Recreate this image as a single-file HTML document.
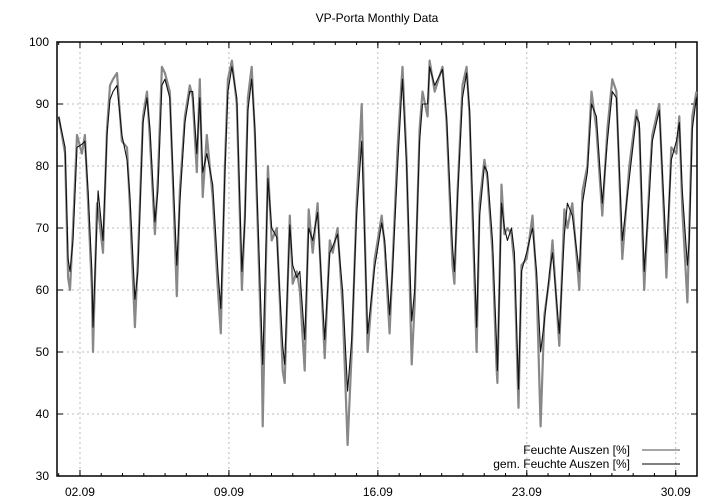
<!DOCTYPE html>
<html><head><meta charset="utf-8"><style>
html,body{margin:0;padding:0;background:#fff;}
svg{display:block;font-family:"Liberation Sans",sans-serif;}
</style></head><body>
<svg id="chart" width="720" height="504">
<text x="377" y="22" font-size="12" text-anchor="middle">VP-Porta Monthly Data</text>
<g id="grid"></g>
<g id="axes"></g>
<g id="series"></g>
<g id="legend">
<text x="630" y="454" font-size="12" text-anchor="end">Feuchte Auszen [%]</text>
<line x1="642" y1="450" x2="680" y2="450" stroke="#888" stroke-width="1.5"/>
<text x="630" y="468" font-size="12" text-anchor="end">gem. Feuchte Auszen [%]</text>
<line x1="642" y1="464" x2="680" y2="464" stroke="#000" stroke-width="1"/>
</g>
</svg>
<script>
const times=[0.0,0.30,0.44,0.53,0.67,0.86,1.09,1.23,1.38,1.56,1.61,1.80,1.85,2.08,2.27,2.41,2.55,2.74,2.97,3.21,3.35,3.58,3.72,3.96,4.15,4.29,4.52,4.66,4.85,4.99,5.22,5.55,5.69,5.93,6.16,6.30,6.49,6.63,6.77,6.96,7.24,7.48,7.62,7.81,7.95,8.14,8.37,8.61,8.75,8.89,9.07,9.22,9.55,9.59,9.83,10.01,10.25,10.53,10.62,10.86,11.00,11.19,11.33,11.56,11.75,11.94,12.17,12.50,12.74,12.88,13.11,13.35,13.58,13.77,14.00,14.24,14.52,14.85,15.18,15.32,15.55,15.69,15.93,16.12,16.16,16.35,16.59,16.73,16.96,17.10,17.34,17.43,17.67,18.04,18.23,18.51,18.60,18.75,18.98,19.17,19.31,19.64,19.78,20.01,20.15,20.39,20.57,20.62,20.81,20.95,21.09,21.28,21.42,21.56,21.61,21.75,21.99,22.27,22.46,22.65,22.83,23.07,23.21,23.53,23.77,23.91,24.14,24.47,24.62,24.85,25.04,25.27,25.55,25.79,26.02,26.21,26.49,26.82,27.15,27.29,27.52,27.77,27.90,28.23,28.56,28.79,29.03,29.17,29.31,29.55,29.64,29.78,29.97];
const smoothValues=[87.9,83,65,63,68,83,83.5,84,76,63,54,71,76,68,85,90.7,92,93,85,81,75,58.5,63,87,91,86,71,76,93,94,91,64,74,87,92,92,82,91,79,82,77,63,57,79,92,96,91,63,71,89,94,86,52,48,78,70,68.5,51,48,70.5,64,62,63,52,70,68,72.5,52,66,67,69,59.7,43.7,52,72,84,53,63.7,70.8,68,56,63,80,92,94,80,55,60,84,90,90,96,93,95.6,88,67,63,75,91,95,89,54,72,80,79,68,52,47,74,70,68,70,66,50,44,63,66,70,63,50,55,63,66,53,69,74,72,63,74,79,90,88,74,84,92,91,68,78,88,87,63,76,84,89,66,81,84,87,76,64,68,86,91];
const rawValues=[88,82,62,60,70,85,82,85,74,60,50,74,73,66,86,93,94,95,84,83,73,54,65,88,92,84,69,78,96,95,92,59,76,88,93,91,79,94,75,85,75,60,53,80,94,97,90,60,72,91,96,85,48,38,80,68,70,47,45,72,61,63,60,47,73,66,74,49,68,66,70,57,35,50,74,90,50,65,72,67,53,64,83,94,96,81,48,58,86,92,88,97,92,96,87,64,61,76,93,96,88,50,74,81,78,66,48,45,77,69,70,69,64,47,41,64,65,72,61,38,56,62,68,51,73,70,74,60,76,80,92,86,72,86,94,92,65,80,89,86,60,78,85,90,62,83,82,88,73,58,70,88,92];
const yTicks=[30,40,50,60,70,80,90,100];
const xTickLabels=["02.09","09.09","16.09","23.09","30.09"];
const xTickDays=[1,8,15,22,29];

const NS="http://www.w3.org/2000/svg";
const L=57,R=697,T=42,B=476,D0=-0.08,D1=30.0,Y0=30,Y1=100;
const sx=d=>L+(d-D0)/(D1-D0)*(R-L);
const sy=v=>B-(v-Y0)/(Y1-Y0)*(B-T);
function mk(tag,attrs,parent){const e=document.createElementNS(NS,tag);for(const k in attrs)e.setAttribute(k,attrs[k]);parent.appendChild(e);return e;}
const grid=document.getElementById('grid'),axes=document.getElementById('axes'),series=document.getElementById('series');

yTicks.forEach((v,i)=>{
  const y=sy(v);
  if(v>Y0&&v<Y1){const g=mk('line',{x1:L,x2:R,y1:y,y2:y,stroke:'#bbb','stroke-width':1,'stroke-dasharray':'2,3'},grid);
  
  }
  mk('line',{x1:L,x2:L+6,y1:y,y2:y,stroke:'#000'},axes);
  mk('line',{x1:R-6,x2:R,y1:y,y2:y,stroke:'#000'},axes);
  const t=mk('text',{x:L-8,y:y+4,'font-size':12,'text-anchor':'end'},axes);
  t.textContent=v;
  
  
});
for(let d=0;d<=29;d++){
  const x=sx(d);
  mk('line',{x1:x,x2:x,y1:B,y2:B-3,stroke:'#000'},axes);
  mk('line',{x1:x,x2:x,y1:T,y2:T+3,stroke:'#000'},axes);
}
xTickDays.forEach((d,i)=>{
  const x=sx(d);
  const g=mk('line',{x1:x,x2:x,y1:T,y2:B,stroke:'#bbb','stroke-width':1,'stroke-dasharray':'2,3'},grid);
  
  
  mk('line',{x1:x,x2:x,y1:B,y2:B-6,stroke:'#000'},axes);
  mk('line',{x1:x,x2:x,y1:T,y2:T+6,stroke:'#000'},axes);
  const t=mk('text',{x:x,y:B+20,'font-size':12,'text-anchor':'middle'},axes);
  t.textContent=xTickLabels[i];
  
  
});
const frame=mk('rect',{x:L,y:T,width:R-L,height:B-T,fill:'none',stroke:'#000','stroke-width':1.5},axes);



function pathOf(vals){return times.map((t,i)=>(i?'L':'M')+sx(t).toFixed(1)+','+sy(vals[i]).toFixed(1)).join('');}
const raw=mk('path',{d:pathOf(rawValues),fill:'none',stroke:'#888','stroke-width':2.2,'stroke-linejoin':'round'},series);


const sm=mk('path',{d:pathOf(smoothValues),fill:'none',stroke:'#111','stroke-width':1.1,'stroke-linejoin':'round'},series);


</script>
</body></html>
